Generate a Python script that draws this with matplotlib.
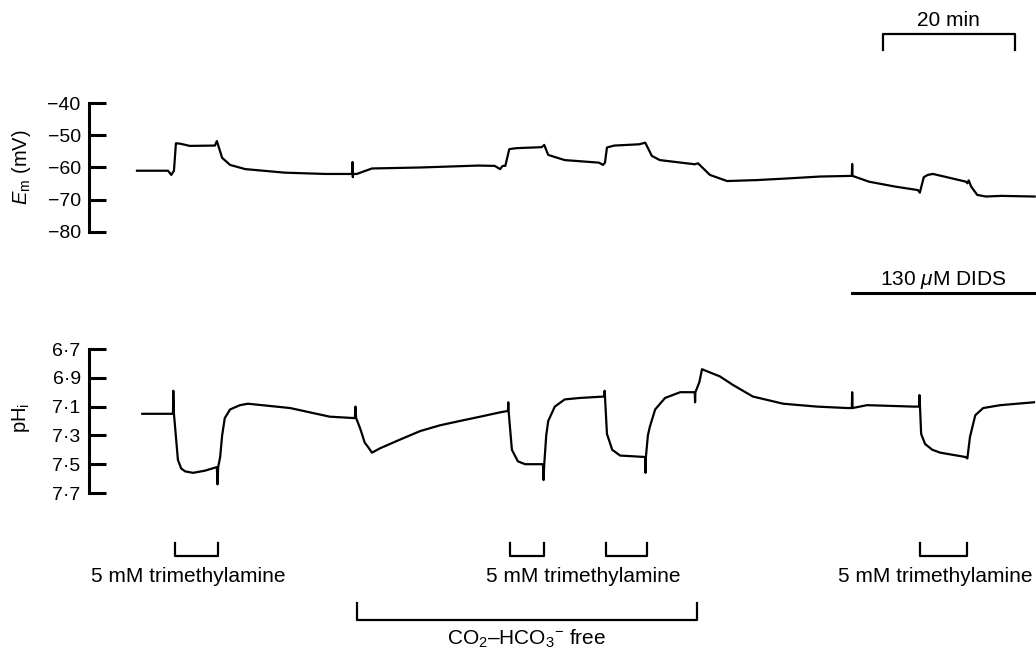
import matplotlib
matplotlib.use("Agg")
import matplotlib.pyplot as plt

plt.rcParams['font.family'] = ['Liberation Sans', 'DejaVu Sans']
plt.rcParams['mathtext.fontset'] = 'custom'
plt.rcParams['mathtext.rm'] = 'Liberation Sans'
plt.rcParams['mathtext.it'] = 'Liberation Sans:italic'

# membrane potential trace (time in min, Em in mV)
em_time = [0.0, 4.7, 5.2, 5.6, 5.9, 6.5, 8.0, 11.8, 12.1, 12.9, 14.1, 16.4, 22.4, 28.5,
           32.6, 32.65, 32.7, 32.75, 33.3, 35.6, 42.9, 51.7, 54.2, 55.0, 55.4, 55.8,
           56.4, 57.5, 61.3, 61.7, 62.3, 64.8, 70.0, 70.6, 70.9, 71.2, 72.3, 76.1, 77.0,
           78.0, 79.2, 84.5, 85.0, 86.8, 89.4, 93.9, 98.5, 103.5, 108.3, 108.35, 108.4,
           110.9, 114.8, 118.3, 118.6, 119.2, 119.8, 120.6, 125.6, 125.8, 126.0, 126.4,
           127.3, 128.6, 130.9, 136.0]
em_mv = [-61.0, -61.0, -62.3, -61.0, -52.5, -52.6, -53.3, -53.2, -51.8, -57.0, -59.2, -60.5,
         -61.6, -62.0, -62.0, -58.3, -63.0, -62.0, -62.0, -60.3, -60.0, -59.4, -59.5, -60.5,
         -59.5, -59.5, -54.3, -54.0, -53.7, -53.0, -56.1, -57.7, -58.5, -59.2, -58.5, -53.8,
         -53.2, -52.8, -52.3, -56.4, -57.7, -59.0, -58.7, -62.3, -64.2, -63.9, -63.4, -62.8,
         -62.6, -58.9, -62.6, -64.4, -65.9, -67.0, -67.8, -63.0, -62.3, -62.0, -64.4, -64.9,
         -64.0, -66.0, -68.5, -69.0, -68.8, -69.0]

# intracellular pH trace
ph_time = [0.8, 5.45, 5.5, 5.6, 6.2, 6.7, 7.3, 8.5, 10.3, 12.1, 12.2, 12.3, 12.6, 12.9, 13.3,
           14.1, 15.6, 16.8, 23.2, 29.2, 33.0, 33.1, 33.2, 33.8, 34.5, 35.0, 35.6, 36.8, 39.8,
           42.9, 45.9, 48.9, 52.0, 55.0, 56.2, 56.25, 56.3, 56.5, 56.8, 57.7, 58.8, 61.5,
           61.6, 61.7, 62.0, 62.3, 63.3, 64.8, 67.1, 70.8, 70.85, 70.9, 71.2, 72.0, 73.2,
           77.0, 77.05, 77.1, 77.4, 77.7, 78.5, 80.0, 82.3, 84.5, 84.55, 84.6, 85.2, 85.6,
           86.1, 88.3, 90.3, 93.3, 97.9, 103.0, 107.6, 108.3, 108.35, 108.4, 110.6, 117.6,
           118.5, 118.55, 118.8, 119.4, 120.5, 121.7, 125.5, 125.8, 126.2, 127.0, 128.2,
           130.8, 135.9]
ph_val = [7.15, 7.15, 6.99, 7.15, 7.47, 7.53, 7.55, 7.56, 7.545, 7.52, 7.64, 7.52, 7.45, 7.30,
          7.18, 7.12, 7.09, 7.08, 7.11, 7.17, 7.18, 7.10, 7.18, 7.25, 7.35, 7.38, 7.42, 7.39,
          7.33, 7.27, 7.23, 7.20, 7.17, 7.14, 7.13, 7.07, 7.13, 7.24, 7.40, 7.48, 7.50, 7.50,
          7.61, 7.50, 7.30, 7.20, 7.10, 7.05, 7.04, 7.03, 6.99, 7.03, 7.29, 7.40, 7.44, 7.45,
          7.56, 7.45, 7.30, 7.24, 7.12, 7.04, 7.00, 7.00, 7.07, 7.00, 6.93, 6.84, 6.85, 6.89,
          6.95, 7.03, 7.08, 7.10, 7.11, 7.11, 7.00, 7.11, 7.09, 7.10, 7.10, 7.02, 7.29, 7.36,
          7.40, 7.42, 7.45, 7.46, 7.31, 7.16, 7.11, 7.09, 7.07]

em_ticks = [-40, -50, -60, -70, -80]
em_labels = ['\u221240', '\u221250', '\u221260', '\u221270', '\u221280']
ph_ticks = [6.7, 6.9, 7.1, 7.3, 7.5, 7.7]
ph_labels = ['6\u00b77', '6\u00b79', '7\u00b71', '7\u00b73', '7\u00b75', '7\u00b77']

# application periods (min)
tma_periods = [(5.8, 12.3), (56.5, 61.7), (71.1, 77.3), (118.6, 125.8)]
tma_label_x = [7.7, 67.6, 120.9]
co2_free = (33.3, 84.8)
dids_start = 108.3
scale_bar = (113.0, 133.0)

W, H = 1036, 652
fig = plt.figure(figsize=(W / 100, H / 100), dpi=100)

t_left, t_right = -7.27, 136.2
x0 = 89 / W
fs = 15

def trace_axes(top_px, bottom_px):
    ax = fig.add_axes([x0, 1 - bottom_px / H, 1 - x0, (bottom_px - top_px) / H])
    ax.set_xlim(t_left, t_right)
    for s in ['top', 'right', 'bottom']:
        ax.spines[s].set_visible(False)
    ax.spines['left'].set_linewidth(2.2)
    ax.set_xticks([])
    ax.tick_params(axis='y', direction='in', length=12, width=2.2, pad=6, labelsize=14)
    ax.patch.set_alpha(0)
    return ax

ax1 = trace_axes(103, 232)
ax1.plot(em_time, em_mv, color='black', lw=1.6, clip_on=False)
ax1.set_ylim(-80, -40)
ax1.set_yticks(em_ticks)
ax1.set_yticklabels(em_labels)
ax1.set_ylabel(r'$E_{\rm m}$ (mV)', fontsize=14.5)
ax1.yaxis.set_label_coords(-0.059, 0.5)

ax2 = trace_axes(349, 493)
ax2.plot(ph_time, ph_val, color='black', lw=1.6, clip_on=False)
ax2.set_ylim(7.7, 6.7)
ax2.set_yticks(ph_ticks)
ax2.set_yticklabels(ph_labels)
ax2.set_ylabel(r'pH$_{\rm i}$', fontsize=14.5)
ax2.yaxis.set_label_coords(-0.06, 0.52)

# overlay for annotations: x in minutes, y in pixels from top
ov = fig.add_axes([0, 0, 1, 1])
ov.set_xlim(t_left - 89 / 6.6, t_right)
ov.set_ylim(H, 0)
ov.axis('off')
ov.patch.set_alpha(0)

lw_b = 1.6
# 20 min scale bar
ov.plot([scale_bar[0], scale_bar[0], scale_bar[1], scale_bar[1]], [50, 34, 34, 50],
        color='black', lw=lw_b)
ov.text(sum(scale_bar) / 2, 20, '20 min', ha='center', va='center', fontsize=fs)

# DIDS
ov.plot([dids_start, t_right], [293, 293], color='black', lw=2.2, clip_on=False)
ov.text(122.1, 280, r'130 $\mu$M DIDS', ha='center', va='center', fontsize=fs)

# trimethylamine brackets
for a, b in tma_periods:
    ov.plot([a, a, b, b], [543, 556, 556, 543], color='black', lw=lw_b)
for x in tma_label_x:
    ov.text(x, 576, '5 mM trimethylamine', ha='center', va='center', fontsize=fs)

# CO2-HCO3 free bracket
ov.plot([co2_free[0], co2_free[0], co2_free[1], co2_free[1]], [603, 620, 620, 603],
        color='black', lw=lw_b)
ov.text(sum(co2_free) / 2, 639, r'CO$_2$–HCO$_3$$^{-}$ free', ha='center', va='center',
        fontsize=fs)

fig.savefig('out.png', dpi=100)
